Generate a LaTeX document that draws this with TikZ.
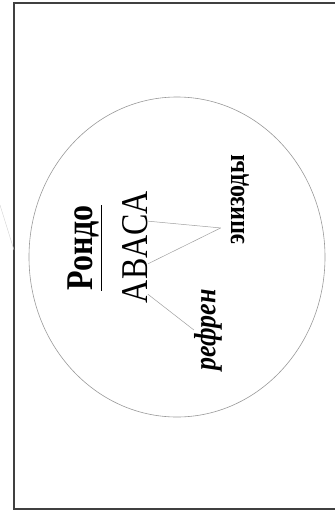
\documentclass[tikz,border=0pt]{standalone}
\usepackage{fontspec}
\usepackage{graphicx}
\setmainfont{Liberation Serif}
\usetikzlibrary{calc}

\newcommand{\tallify}[1]{\scalebox{1}[1.18]{#1}}

\tikzset{
  vlabel/.style={rotate=90, inner sep=0pt, anchor=center},
  link/.style={gray!75, line width=0.5pt},
}

\begin{document}
\begin{tikzpicture}[x=1pt, y=-1pt]
    \useasboundingbox (0,0) rectangle (335,512);

    % Рамка
    \draw[line width=1.3pt, black!75] (14,3) rectangle (338,509);
    % Слабый след линии слева
    \coordinate (s1) at (0,205);
    \coordinate (s2) at (14,250);
    \draw[gray!35] (s1) -- (s2);

    % Овал
    \draw[gray!80, line width=0.6pt] (177,257) ellipse [x radius=148, y radius=160];

    % Подписи (повёрнуты)
    \node[vlabel, font=\bfseries\fontsize{32}{32}\selectfont] (rondo) at (85,248) {\tallify{\underline{Рондо}}};
    \node[vlabel, font=\fontsize{32}{32}\selectfont] (abaca) at (135,247) {\tallify{ABACA}};
    \node[vlabel, font=\bfseries\fontsize{24}{24}\selectfont] (epizody) at (240,200) {\tallify{эпизоды}};
    \node[vlabel, font=\bfseries\itshape\fontsize{26}{26}\selectfont] (refren) at (208,330) {\tallify{рефрен}};

    % Линии
    \coordinate (hub) at ($(epizody.north west)!0.19!(epizody.north east) + (-10,0)$);
    \draw[link] ($(abaca.south west)!0.73!(abaca.south east)$) -- (hub);
    \draw[link] ($(abaca.south west)!0.35!(abaca.south east)$) -- (hub);
    \draw[link] ($(abaca.south west)!0.08!(abaca.south east)$) -- (refren.north);
\end{tikzpicture}
\end{document}
